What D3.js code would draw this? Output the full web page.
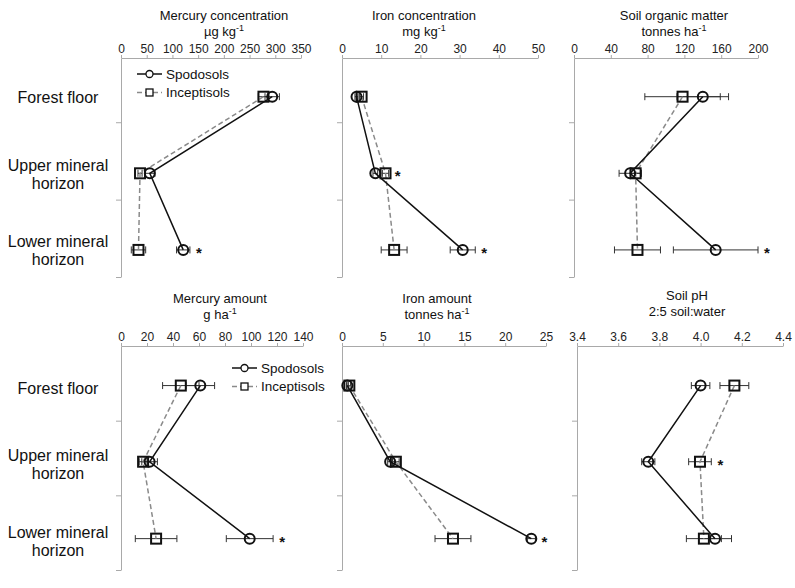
<!DOCTYPE html>
<html>
<head>
<meta charset="utf-8">
<script src="https://cdn.jsdelivr.net/npm/d3@7"></script>
<style>
  body { margin: 0; background: #fff; }
  svg { font-family: Arial, 'Liberation Sans', sans-serif; }
</style>
</head>
<body>
<div id="chart"></div>
<script>
// horizons (rows) and the two soil orders
const horizons = [['Forest floor'], ['Upper mineral', 'horizon'], ['Lower mineral', 'horizon']];
const seriesNames = ['Spodosols', 'Inceptisols'];

// Mercury concentration, ug/kg
const hgConcSpod = [294, 56, 121];
const hgConcSpodErr = [14, 10, 13];
const hgConcIncep = [277, 37, 34];
const hgConcIncepErr = [10, 4, 14];
const hgConcTicks = [0, 50, 100, 150, 200, 250, 300, 350];

// Iron concentration, mg/kg
const feConcSpod = [3.7, 8.5, 30.8];
const feConcSpodErr = [0.4, 0.6, 3.2];
const feConcIncep = [5.0, 11.1, 13.3];
const feConcIncepErr = [0.5, 0.8, 3.3];
const feConcTicks = [0, 10, 20, 30, 40, 50];

// Soil organic matter, t/ha
const somSpod = [140, 61, 154];
const somSpodErr = [28, 12, 46];
const somIncep = [118, 67, 69];
const somIncepErr = [41, 6, 25];
const somTicks = [0, 40, 80, 120, 160, 200];

// Mercury amount, g/ha
const hgAmtSpod = [61, 22, 99];
const hgAmtSpodErr = [11, 6, 18];
const hgAmtIncep = [46, 17, 27];
const hgAmtIncepErr = [14, 3, 16];
const hgAmtTicks = [0, 20, 40, 60, 80, 100, 120, 140];

// Iron amount, t/ha
const feAmtSpod = [0.65, 5.9, 23.2];
const feAmtSpodErr = [0.1, 0.3, 0.5];
const feAmtIncep = [0.9, 6.6, 13.6];
const feAmtIncepErr = [0.15, 0.4, 2.2];
const feAmtTicks = [0, 5, 10, 15, 20, 25];

// Soil pH
const phSpod = [4.0, 3.746, 4.07];
const phSpodErr = [0.045, 0.032, 0.08];
const phIncep = [4.164, 3.997, 4.016];
const phIncepErr = [0.07, 0.055, 0.085];
const phTicks = [3.4, 3.6, 3.8, 4.0, 4.2, 4.4];

// significant differences (row index)
const hgConcSig = [2];
const feConcSig = [1, 2];
const somSig = [2];
const hgAmtSig = [2];
const feAmtSig = [2];
const phSig = [1];

const width = 795;
const height = 588;
const axisColor = '#a9a9a9';

const intFmt = v => String(Math.round(v));
const oneDec = v => v.toFixed(1);

// row layouts (pixel placement of each row of panels)
const rows = [
  { top: 58, bottom: 277, y0: 0.17, pos: [0.67, 1.66, 2.65], t1: 19.5, t2: 35.5, lab: 1 },
  { top: 346, bottom: 570, y0: 0, pos: [0.53, 1.55, 2.58], t1: 302.5, t2: 318.5, lab: 3 }
];

const panels = [
  { row: 0, x0: 121, x1: 301, tx: 224, title: 'Mercury concentration', unit: ['\u00b5g kg', '-1'],
    ticks: hgConcTicks, fmt: intFmt, s: hgConcSpod, se: hgConcSpodErr, i: hgConcIncep, ie: hgConcIncepErr, sig: hgConcSig, legend: true },
  { row: 0, x0: 342, x1: 538, tx: 424, title: 'Iron concentration', unit: ['mg kg', '-1'],
    ticks: feConcTicks, fmt: intFmt, s: feConcSpod, se: feConcSpodErr, i: feConcIncep, ie: feConcIncepErr, sig: feConcSig },
  { row: 0, x0: 574, x1: 758, tx: 674, title: 'Soil organic matter', unit: ['tonnes ha', '-1'],
    ticks: somTicks, fmt: intFmt, s: somSpod, se: somSpodErr, i: somIncep, ie: somIncepErr, sig: somSig },
  { row: 1, x0: 121, x1: 303, tx: 220, title: 'Mercury amount', unit: ['g ha', '-1'],
    ticks: hgAmtTicks, fmt: intFmt, s: hgAmtSpod, se: hgAmtSpodErr, i: hgAmtIncep, ie: hgAmtIncepErr, sig: hgAmtSig, legend: true },
  { row: 1, x0: 342, x1: 546, tx: 437, title: 'Iron amount', unit: ['tonnes ha', '-1'],
    ticks: feAmtTicks, fmt: intFmt, s: feAmtSpod, se: feAmtSpodErr, i: feAmtIncep, ie: feAmtIncepErr, sig: feAmtSig },
  { row: 1, x0: 577, x1: 783, tx: 687, title: 'Soil pH', unit: ['2:5 soil:water', ''], dy: -3,
    ticks: phTicks, fmt: oneDec, s: phSpod, se: phSpodErr, i: phIncep, ie: phIncepErr, sig: phSig }
];

const svg = d3.select('#chart')
  .append('svg')
  .attr('width', width)
  .attr('height', height);

// row labels
rows.forEach(r => {
  const y = d3.scaleLinear().domain([r.y0, 3]).range([r.top, r.bottom]);
  horizons.forEach((lines, k) => {
    const cy = y(r.pos[k]) + r.lab;
    const t = svg.append('text')
      .attr('text-anchor', 'middle')
      .attr('font-size', 16)
      .attr('fill', '#111');
    lines.forEach((ln, j) => {
      t.append('tspan')
        .attr('x', 58)
        .attr('y', cy + 5.5 + (j - (lines.length - 1) / 2) * 18)
        .text(ln);
    });
  });
});

panels.forEach(p => drawPanel(p));

function drawPanel(p) {
  const r = rows[p.row];
  const x = d3.scaleLinear().domain([p.ticks[0], p.ticks[p.ticks.length - 1]]).range([p.x0, p.x1]);
  const y = d3.scaleLinear().domain([r.y0, 3]).range([r.top, r.bottom]);
  const g = svg.append('g');

  // titles
  const dy = p.dy || 0;
  g.append('text')
    .attr('x', p.tx).attr('y', r.t1 + dy)
    .attr('text-anchor', 'middle').attr('font-size', 13).attr('fill', '#111')
    .text(p.title);
  const u = g.append('text')
    .attr('x', p.tx).attr('y', r.t2 + dy)
    .attr('text-anchor', 'middle').attr('font-size', 13).attr('fill', '#111');
  u.append('tspan').text(p.unit[0]);
  if (p.unit[1]) {
    u.append('tspan').attr('font-size', 9).attr('dy', -5).text(p.unit[1]);
  }

  // top value axis
  g.append('g')
    .attr('transform', 'translate(0,' + r.top + ')')
    .call(d3.axisTop(x).tickValues(p.ticks).tickFormat(p.fmt).tickSize(3).tickSizeOuter(0).tickPadding(2))
    .call(a => a.selectAll('text').attr('font-size', 12).attr('fill', '#222').attr('font-family', null))
    .call(a => a.selectAll('path, line').attr('stroke', axisColor));

  // left category axis
  g.append('g')
    .attr('transform', 'translate(' + p.x0 + ',0)')
    .call(d3.axisLeft(y).tickValues([1, 2, 3]).tickFormat('').tickSize(5).tickSizeOuter(0))
    .call(a => a.selectAll('path, line').attr('stroke', axisColor));

  const rowsIdx = [0, 1, 2];
  const line = d3.line()
    .x(d => x(d.v))
    .y(d => y(d.y));

  const spod = rowsIdx.map(k => ({ v: p.s[k], e: p.se[k], y: r.pos[k] }));
  const incep = rowsIdx.map(k => ({ v: p.i[k], e: p.ie[k], y: r.pos[k] }));

  // error bars
  [incep, spod].forEach(ser => {
    ser.forEach(d => {
      const cy = y(d.y);
      g.append('line')
        .attr('x1', x(d.v - d.e)).attr('x2', x(d.v + d.e))
        .attr('y1', cy).attr('y2', cy)
        .attr('stroke', '#333').attr('stroke-width', 1);
      [d.v - d.e, d.v + d.e].forEach(v => {
        g.append('line')
          .attr('x1', x(v)).attr('x2', x(v))
          .attr('y1', cy - 3.5).attr('y2', cy + 3.5)
          .attr('stroke', '#333').attr('stroke-width', 1);
      });
    });
  });

  // lines
  g.append('path').datum(incep)
    .attr('fill', 'none').attr('stroke', '#8a8a8a')
    .attr('stroke-width', 1.5).attr('stroke-dasharray', '5,3')
    .attr('d', line);
  g.append('path').datum(spod)
    .attr('fill', 'none').attr('stroke', '#111')
    .attr('stroke-width', 1.5)
    .attr('d', line);

  // markers
  g.selectAll('.sq').data(incep).join('rect')
    .attr('x', d => x(d.v) - 5).attr('y', d => y(d.y) - 5)
    .attr('width', 10).attr('height', 10)
    .attr('fill', 'none').attr('stroke', '#111').attr('stroke-width', 2);
  g.selectAll('.ci').data(spod).join('circle')
    .attr('cx', d => x(d.v)).attr('cy', d => y(d.y)).attr('r', 5)
    .attr('fill', 'none').attr('stroke', '#111').attr('stroke-width', 2);

  // significance stars
  p.sig.forEach(k => {
    const hi = Math.max(p.s[k] + p.se[k], p.i[k] + p.ie[k]);
    g.append('text')
      .attr('x', x(hi) + 9).attr('y', y(r.pos[k]) + 8)
      .attr('text-anchor', 'middle').attr('font-size', 15).attr('font-weight', 'bold')
      .attr('fill', '#111')
      .text('*');
  });

  if (p.legend) drawLegend(g, p, r);
}

function drawLegend(g, p, r) {
  const lx = p.row === 0 ? 137 : 232;
  const ly = p.row === 0 ? 74 : 368;
  seriesNames.forEach((name, k) => {
    const yy = ly + k * 18.5;
    g.append('line')
      .attr('x1', lx).attr('x2', lx + 25).attr('y1', yy).attr('y2', yy)
      .attr('stroke', k === 0 ? '#111' : '#8a8a8a').attr('stroke-width', 1.5)
      .attr('stroke-dasharray', k === 0 ? null : '5,3');
    if (k === 0) {
      g.append('circle').attr('cx', lx + 12.5).attr('cy', yy).attr('r', 3.5)
        .attr('fill', '#fff').attr('stroke', '#111').attr('stroke-width', 1.3);
    } else {
      g.append('rect').attr('x', lx + 9).attr('y', yy - 3.5).attr('width', 7).attr('height', 7)
        .attr('fill', '#fff').attr('stroke', '#111').attr('stroke-width', 1.3);
    }
    g.append('text')
      .attr('x', lx + 29).attr('y', yy + 4.5)
      .attr('font-size', 13.5).attr('fill', '#111')
      .text(name);
  });
}
</script>
</body>
</html>
